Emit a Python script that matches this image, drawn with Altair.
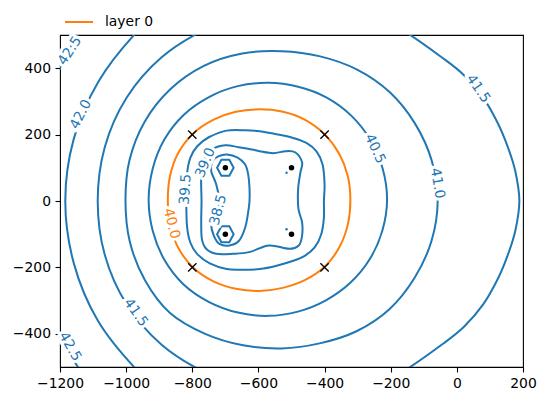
import altair as alt
import numpy as np
import pandas as pd

# ---- outer contours, read as radius (data units) at angles (deg) about a centre ----
c425a_ang = [140, 145, 150, 155];  c425a_r = [851, 848, 843, 838]   # centre (-460, 0)
c425b_ang = [205, 210, 215, 220];  c425b_r = [838, 843, 848, 851]
c420_ang = [125, 135, 150, 165, 180, 195, 210, 225, 235]
c420_r = [718, 719, 720, 723, 724, 723, 722, 719, 718]              # centre (-460, 0)
c415a_ang = [110, 120, 135, 150, 165, 180, 195, 210, 225, 240, 250]
c415a_r = [585, 598, 612, 622, 626, 626, 626, 622, 612, 598, 585]    # centre (-460, 0)
c415b_ang = [-70, -60, -45, -38, -30, -22, -15, -8, 0, 8, 15, 22, 30, 38, 45, 60, 70]
c415b_r = [585, 593, 601, 613, 623, 629, 635, 643, 649, 643, 635, 629, 623, 613, 601, 593, 585]
ANG24 = list(range(0, 360, 15))
c410_r = [472, 470, 466, 463, 457, 451, 451, 460, 470, 476, 478, 476,
          472, 475, 477, 477, 462, 450, 444, 444, 453, 461, 464, 469]  # centre (-530, 0)
c405_r = [360, 359, 358, 357, 355, 352, 352, 354, 357, 361, 362, 361,
          361, 361, 362, 361, 356, 352, 350, 349, 350, 353, 356, 358]  # centre (-571, 4)
c400_r = [275, 277, 279, 280, 279, 276, 274, 276, 280, 284, 284, 280,
          277, 280, 284, 285, 281, 276, 273, 273, 277, 281, 280, 277]  # centre (-597, 2)

# ---- inner contours read as points ----
c395 = [(-818, 0), (-816, 80), (-806, 130), (-785, 165), (-750, 192), (-696, 212), (-640, 213), (-596, 210),
        (-540, 200), (-495, 190), (-455, 175), (-425, 150), (-406, 110), (-400, 50), (-402, 0), (-402, -50),
        (-410, -100), (-430, -140), (-460, -165), (-495, -180), (-545, -195), (-596, -205), (-650, -207),
        (-696, -205), (-747, -188), (-785, -160), (-806, -125), (-816, -75)]
c390 = [(-772, 0), (-773, 70), (-765, 120), (-738, 156), (-700, 168), (-660, 162), (-620, 155), (-596, 150),
        (-555, 144), (-518, 150), (-488, 146), (-468, 116), (-473, 86), (-480, 36), (-479, -24), (-468, -64),
        (-468, -104), (-478, -134), (-508, -144), (-568, -134), (-628, -154), (-678, -159), (-728, -159),
        (-758, -144), (-771, -114), (-773, -60)]
c385 = [(-718, 0), (-728, 51), (-743, 91), (-738, 121), (-720, 135), (-696, 140), (-663, 131), (-640, 110),
        (-631, 80), (-627, 40), (-627, 0), (-632, -40), (-640, -80), (-658, -119), (-688, -134), (-718, -129),
        (-735, -104), (-743, -70), (-735, -40), (-722, -20)]
hex_top = [(-725, 100), (-712, 124), (-688, 124), (-675, 100), (-688, 76), (-712, 76)]
hex_bot = [(-725, -100), (-712, -76), (-688, -76), (-675, -100), (-688, -124), (-712, -124)]
tiny_loops = [(-515, 85), (-515, -85)]

# ---- markers ----
dot_x = [-700, -700, -500, -500]
dot_y = [100, -100, 100, -100]
cross_x = [-800, -400, -800, -400]
cross_y = [200, 200, -200, -200]

# ---- contour labels ----
lab_text = ["42.5", "42.5", "42.0", "41.5", "41.5", "41.0", "40.5", "40.0", "39.5", "39.0", "38.5"]
lab_x = [-1170, -1170, -1137, -971, 64, -59, -248, -863, -820, -760, -721]
lab_y = [452, -439, 261, -336, 338, 53, 157, -68, 35, 115, -27]
lab_ang = [303, 60, 297, 55, 56, 80, 65, 76, 274, 293, 285]

BLUE = "#1f77b4"
ORANGE = "#ff7f0e"


def polar(cx, cy, ang, r):
    a = np.radians(np.array(ang, dtype=float))
    r = np.array(r, dtype=float)
    return list(zip(cx + r * np.cos(a), cy + r * np.sin(a)))


def table(paths):
    rows = []
    for name, grp, pts in paths:
        for i, (x, y) in enumerate(pts):
            rows.append({"seg": name, "grp": grp, "ord": i, "x": float(x), "y": float(y)})
    return pd.DataFrame(rows)


open_df = table([
    ("425a", "other", polar(-460, 0, c425a_ang, c425a_r)),
    ("425b", "other", polar(-460, 0, c425b_ang, c425b_r)),
    ("420", "other", polar(-460, 0, c420_ang, c420_r)),
    ("415a", "other", polar(-460, 0, c415a_ang, c415a_r)),
    ("415b", "other", polar(-460, 0, c415b_ang, c415b_r)),
])
closed_df = table([
    ("410", "other", polar(-530, 0, ANG24, c410_r)),
    ("405", "other", polar(-571, 4, ANG24, c405_r)),
    ("400", "layer 0", polar(-597, 2, ANG24, c400_r)),
    ("395", "other", c395), ("390", "other", c390), ("385", "other", c385),
])
hex_df = table([("h1", "other", hex_top), ("h2", "other", hex_bot)])
tiny_df = pd.DataFrame({"x": [p[0] for p in tiny_loops], "y": [p[1] for p in tiny_loops]})
dots_df = pd.DataFrame({"x": dot_x, "y": dot_y})
cross_df = pd.DataFrame({"x": cross_x, "y": cross_y})
lab_df = pd.DataFrame({"t": lab_text, "x": lab_x, "y": lab_y, "a": lab_ang,
                       "c": [ORANGE if t == "40.0" else BLUE for t in lab_text]})

MINUS_EXPR = "datum.value < 0 ? '\u2212' + format(-datum.value, 'd') : format(datum.value, 'd')"
AXIS_STYLE = dict(grid=False, labelFlush=False, domain=False, tickColor="black", tickSize=5,
                  tickWidth=1.1, labelFont="DejaVu Sans", labelFontSize=13.9, labelColor="black",
                  labelPadding=4.5, labelExpr=MINUS_EXPR)
xs = alt.Scale(domain=[-1200, 200], nice=False, zero=False)
ys = alt.Scale(domain=[-500, 500], nice=False, zero=False)
X = alt.X("x:Q", scale=xs, title=None,
          axis=alt.Axis(values=[-1200, -1000, -800, -600, -400, -200, 0, 200], **AXIS_STYLE))
Y = alt.Y("y:Q", scale=ys, title=None,
          axis=alt.Axis(values=[-400, -200, 0, 200, 400], **AXIS_STYLE))
cscale = alt.Scale(domain=["layer 0", "other"], range=[ORANGE, BLUE])
legend = alt.Legend(values=["layer 0"], orient="none", legendX=4, legendY=-28, title=None,
                    symbolType="stroke", symbolSize=784, symbolStrokeWidth=2, labelFontSize=13.9,
                    labelFont="DejaVu Sans", labelColor="black", labelOffset=11, padding=0)
C = alt.Color("grp:N", scale=cscale, legend=legend)

open_l = alt.Chart(open_df).mark_line(interpolate="cardinal", clip=True, strokeWidth=2).encode(
    x=X, y=Y, color=C, detail="seg:N", order="ord:Q")
closed_l = alt.Chart(closed_df).mark_line(interpolate="cardinal-closed", clip=True, strokeWidth=2).encode(
    x=X, y=Y, color=C, detail="seg:N", order="ord:Q")
hex_l = alt.Chart(hex_df).mark_line(interpolate="linear-closed", strokeWidth=2).encode(
    x=X, y=Y, color=C, detail="seg:N", order="ord:Q")
tiny_l = alt.Chart(tiny_df).mark_point(filled=True, size=6, color=BLUE, opacity=1).encode(x=X, y=Y)
halo = alt.Chart(lab_df).mark_text(font="DejaVu Sans", fontSize=13.9, stroke="white", strokeWidth=6,
                                   fill="white", baseline="middle", align="center").encode(
    x=X, y=Y, text="t:N", angle=alt.Angle("a:Q", scale=None))
labels = alt.Chart(lab_df).mark_text(font="DejaVu Sans", fontSize=13.9, baseline="middle",
                                     align="center").encode(
    x=X, y=Y, text="t:N", angle=alt.Angle("a:Q", scale=None), color=alt.Color("c:N", scale=None))
dots = alt.Chart(dots_df).mark_point(filled=True, size=30, color="black", opacity=1).encode(x=X, y=Y)
crosses = alt.Chart(cross_df).mark_point(shape="M -1 -1 L 1 1 M -1 1 L 1 -1", size=70, filled=False,
                                         color="black", strokeWidth=1.3, opacity=1).encode(x=X, y=Y)

chart = alt.layer(open_l, closed_l, hex_l, tiny_l, halo, labels, dots, crosses).properties(
    width=463, height=332, autosize=alt.AutoSizeParams(type="none"), background="white",
    padding={"left": 60, "top": 35, "right": 24, "bottom": 34}
).configure_view(stroke="black", strokeWidth=1.1)

chart.save("out.html", embed_options={"renderer": "svg", "actions": False})
